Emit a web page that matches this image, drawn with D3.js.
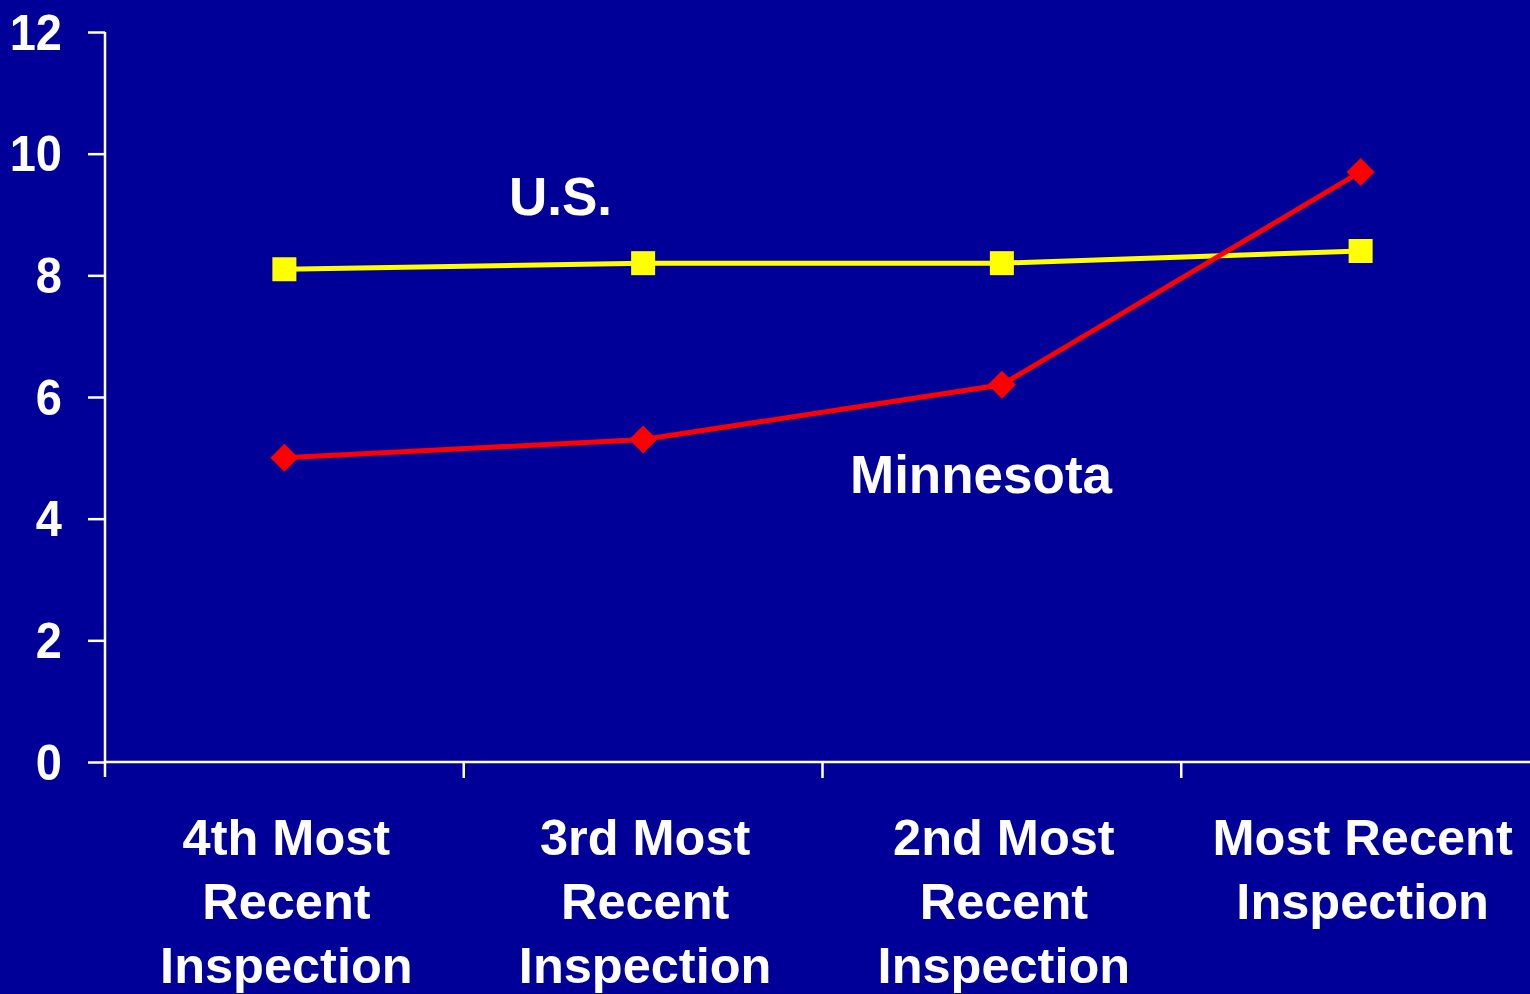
<!DOCTYPE html>
<html>
<head>
<meta charset="utf-8">
<script src="https://cdn.jsdelivr.net/npm/d3@7"></script>
<style>
  html, body { margin: 0; padding: 0; background: #000099; }
  svg { display: block; }
  text { font-family: "Liberation Sans", Arial, sans-serif; font-weight: bold; fill: #fff; }
</style>
</head>
<body>
<svg id="chart" width="1530" height="994"></svg>
<script>
// chart data
const categories = [
    ["4th Most", "Recent", "Inspection"],
    ["3rd Most", "Recent", "Inspection"],
    ["2nd Most", "Recent", "Inspection"],
    ["Most Recent", "Inspection"]
];
const usValues = [8.1, 8.2, 8.2, 8.4];
const mnValues = [5.0, 5.3, 6.2, 9.7];
const yTicks   = [0, 2, 4, 6, 8, 10, 12];

const svg = d3.select("#chart");
const keys = categories.map((c, i) => "c" + i);

const x = d3.scaleBand()
    .domain(keys)
    .range([105, 1540])
    .padding(0);

const y = d3.scaleLinear()
    .domain([0, 12])
    .range([762, 32]);

const mid = k => x(k) + x.bandwidth() / 2;

// y axis
const yAxis = svg.append("g")
    .attr("transform", "translate(105,0)")
    .call(d3.axisLeft(y).tickValues(yTicks).tickSize(17).tickPadding(43));
yAxis.select(".domain").attr("stroke", "#fff").attr("stroke-width", 2.5)
    .attr("d", "M0," + y(12) + "V777");
yAxis.selectAll(".tick line").attr("stroke", "#fff").attr("stroke-width", 2.5);
// glyphs in the original are a bit taller than they are wide
yAxis.selectAll(".tick text")
    .attr("fill", "#fff")
    .style("font-size", "47px")
    .attr("dy", "0.34em")
    .attr("transform", "translate(17,0) scale(1,1.08)");

// x axis line and boundary ticks
svg.append("line")
    .attr("x1", 105).attr("x2", 1530)
    .attr("y1", y(0)).attr("y2", y(0))
    .attr("stroke", "#fff").attr("stroke-width", 2.5);

svg.selectAll("line.xtick")
    .data(keys.slice(1))
    .enter()
    .append("line")
    .attr("class", "xtick")
    .attr("x1", d => x(d)).attr("x2", d => x(d))
    .attr("y1", y(0)).attr("y2", y(0) + 16)
    .attr("stroke", "#fff").attr("stroke-width", 2.5);

// category labels
svg.selectAll("text.cat")
    .data(categories)
    .enter()
    .append("text")
    .attr("class", "cat")
    .attr("text-anchor", "middle")
    .style("font-size", "50.5px")
    .each(function (lines, i) {
        let t = d3.select(this);
        lines.forEach((ln, j) => {
            t.append("tspan")
                .attr("x", mid(keys[i]) + 2)
                .attr("y", 855 + j * 64)
                .text(ln);
        });
    });

// lines
const line = vals => d3.line()
    .x((d, i) => mid(keys[i]))
    .y(d => y(d))(vals);

svg.append("path")
    .attr("d", line(usValues))
    .attr("fill", "none")
    .attr("stroke", "#ffff00")
    .attr("stroke-width", 5);

svg.append("path")
    .attr("d", line(mnValues))
    .attr("fill", "none")
    .attr("stroke", "#ff0000")
    .attr("stroke-width", 5);

// markers
svg.selectAll("rect.us")
    .data(usValues)
    .enter()
    .append("rect")
    .attr("class", "us")
    .attr("x", (d, i) => mid(keys[i]) - 12)
    .attr("y", d => y(d) - 12)
    .attr("width", 24)
    .attr("height", 24)
    .attr("fill", "#ffff00");

svg.selectAll("path.mn")
    .data(mnValues)
    .enter()
    .append("path")
    .attr("class", "mn")
    .attr("d", (d, i) => {
        let cx = mid(keys[i]), cy = y(d), r = 14;
        return `M${cx},${cy - r}L${cx + r},${cy}L${cx},${cy + r}L${cx - r},${cy}Z`;
    })
    .attr("fill", "#ff0000");

// series annotations
svg.append("text")
    .attr("x", 509).attr("y", 215)
    .style("font-size", "53px")
    .text("U.S.");

svg.append("text")
    .attr("x", 850).attr("y", 493)
    .style("font-size", "53px")
    .text("Minnesota");
</script>
</body>
</html>
